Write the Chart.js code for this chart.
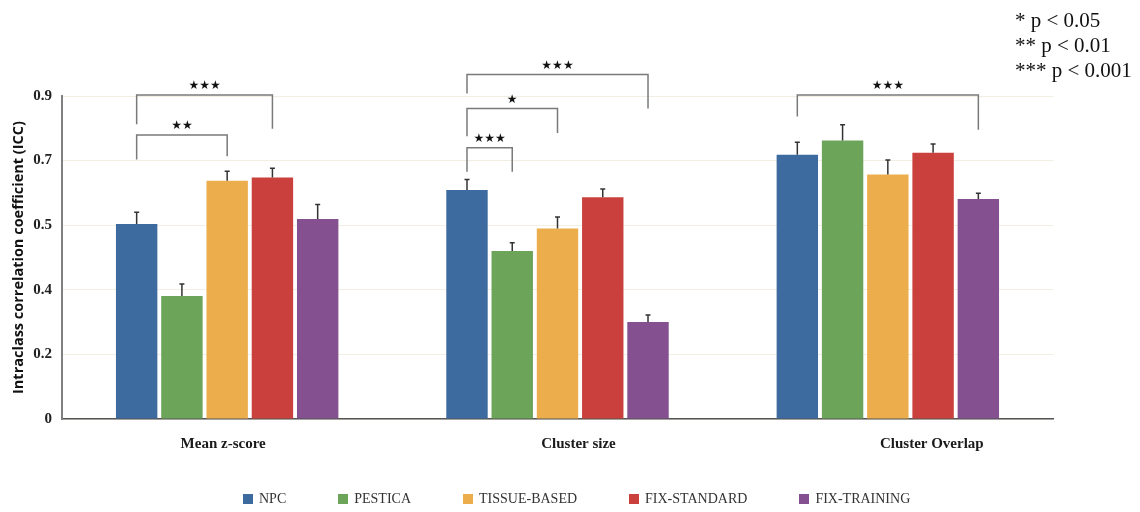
<!DOCTYPE html>
<html>
<head>
<meta charset="utf-8">
<title>ICC by method</title>
<script src="https://cdn.jsdelivr.net/npm/chart.js@4.4.1/dist/chart.umd.min.js"></script>
<style>
  html, body { margin: 0; padding: 0; background: #fff; }
  #wrap { position: relative; width: 1140px; height: 512px; }
  #legend {
    position: absolute; left: 243px; top: 491px;
    display: flex; align-items: center;
    font: 14px "Liberation Serif", serif; color: #333; white-space: nowrap;
  }
  #legend .item { display: flex; align-items: center; margin-right: 52px; }
  #legend .item:last-child { margin-right: 0; }
  #legend .sw { width: 10px; height: 10px; margin-right: 6px; }
  #pnote {
    position: absolute; left: 1015px; top: 8px;
    font: 21px/25px "Liberation Serif", serif; color: #111; white-space: nowrap;
  }
</style>
</head>
<body>
<div id="wrap">
  <canvas id="chart" width="1140" height="512"></canvas>
  <div id="legend"></div>
  <div id="pnote"></div>
</div>
<script>
// Measures compared across methods
const CATEGORIES = ['Mean z-score', 'Cluster size', 'Cluster Overlap'];

// Methods (one bar series each)
const SERIES_NAMES = ['NPC', 'PESTICA', 'TISSUE-BASED', 'FIX-STANDARD', 'FIX-TRAINING'];
const SERIES_COLORS = ['#3e6b9f', '#6ca55a', '#ecae4c', '#c9403c', '#845090'];

// Mean ICC per measure
const NPC          = [0.543, 0.638, 0.736];
const PESTICA      = [0.343, 0.468, 0.776];
const TISSUE_BASED = [0.664, 0.531, 0.681];
const FIX_STANDARD = [0.673, 0.618, 0.742];
const FIX_TRAINING = [0.557, 0.270, 0.613];

// Upper error (standard error) per measure
const NPC_ERR          = [0.033, 0.029, 0.035];
const PESTICA_ERR      = [0.033, 0.023, 0.044];
const TISSUE_BASED_ERR = [0.026, 0.032, 0.041];
const FIX_STANDARD_ERR = [0.026, 0.023, 0.024];
const FIX_TRAINING_ERR = [0.041, 0.020, 0.016];

// Y axis: six evenly spaced ticks from 0 to 0.9, printed with one decimal
const Y_TICK_VALUES = [0, 0.18, 0.36, 0.54, 0.72, 0.9];
const Y_TICK_LABELS = ['0', '0.2', '0.4', '0.5', '0.7', '0.9'];

// Significance key
const P_NOTE = ['* p < 0.05', '** p < 0.01', '*** p < 0.001'];

// Pairwise comparisons: measure, the two methods, bracket height and leg ends (ICC units), marker
const COMPARISONS = [
  { cat: 0, from: 0, to: 2, level: 0.791, fromEnd: 0.723, toEnd: 0.732, mark: '★★' },
  { cat: 0, from: 0, to: 3, level: 0.903, fromEnd: 0.821, toEnd: 0.809, mark: '★★★' },
  { cat: 1, from: 0, to: 1, level: 0.756, fromEnd: 0.689, toEnd: 0.689, mark: '★★★' },
  { cat: 1, from: 0, to: 2, level: 0.865, fromEnd: 0.788, toEnd: 0.797, mark: '★' },
  { cat: 1, from: 0, to: 4, level: 0.960, fromEnd: 0.907, toEnd: 0.865, mark: '★★★' },
  { cat: 2, from: 0, to: 4, level: 0.903, fromEnd: 0.843, toEnd: 0.806, mark: '★★★' }
];

// Horizontal nudge of each measure name under its group (px)
const X_LABEL_SHIFT = [-4, 21, 44];

const VALUES = [NPC, PESTICA, TISSUE_BASED, FIX_STANDARD, FIX_TRAINING];
const ERRORS = [NPC_ERR, PESTICA_ERR, TISSUE_BASED_ERR, FIX_STANDARD_ERR, FIX_TRAINING_ERR];

// Upper whiskers with a small cap
const errorBars = {
  id: 'errorBars',
  afterDatasetsDraw(chart) {
    const { ctx, scales: { y } } = chart;
    ctx.save();
    ctx.strokeStyle = '#333';
    ctx.lineWidth = 1.5;
    chart.data.datasets.forEach((ds, di) => {
      const meta = chart.getDatasetMeta(di);
      meta.data.forEach((bar, i) => {
        const top = y.getPixelForValue(ds.data[i] + ERRORS[di][i]);
        ctx.beginPath();
        ctx.moveTo(bar.x, bar.y);
        ctx.lineTo(bar.x, top);
        ctx.moveTo(bar.x - 2.5, top);
        ctx.lineTo(bar.x + 2.5, top);
        ctx.stroke();
      });
    });
    ctx.restore();
  }
};

// Significance brackets above the groups
const brackets = {
  id: 'brackets',
  afterDatasetsDraw(chart) {
    const { ctx, scales: { y } } = chart;
    ctx.save();
    COMPARISONS.forEach(c => {
      const a = chart.getDatasetMeta(c.from).data[c.cat];
      const b = chart.getDatasetMeta(c.to).data[c.cat];
      const yl = y.getPixelForValue(c.level);
      ctx.strokeStyle = '#7a7a7a';
      ctx.lineWidth = 1.5;
      ctx.beginPath();
      ctx.moveTo(a.x, y.getPixelForValue(c.fromEnd));
      ctx.lineTo(a.x, yl);
      ctx.lineTo(b.x, yl);
      ctx.lineTo(b.x, y.getPixelForValue(c.toEnd));
      ctx.stroke();
      ctx.fillStyle = '#111';
      ctx.font = '12px "DejaVu Sans"';
      ctx.textAlign = 'center';
      ctx.textBaseline = 'middle';
      ctx.fillText(c.mark, (a.x + b.x) / 2, yl - 9);
    });
    ctx.restore();
  }
};

// Measure names under the groups
const groupLabels = {
  id: 'groupLabels',
  afterDraw(chart) {
    const { ctx, chartArea, scales: { x } } = chart;
    ctx.save();
    ctx.fillStyle = '#1a1a1a';
    ctx.font = 'bold 15px "Liberation Serif"';
    ctx.textAlign = 'center';
    ctx.textBaseline = 'middle';
    CATEGORIES.forEach((label, i) => {
      ctx.fillText(label, x.getPixelForValue(i) + X_LABEL_SHIFT[i], chartArea.bottom + 25);
    });
    ctx.restore();
  }
};

new Chart(document.getElementById('chart'), {
  type: 'bar',
  data: {
    labels: CATEGORIES,
    datasets: SERIES_NAMES.map((name, i) => ({
      label: name,
      data: VALUES[i],
      backgroundColor: SERIES_COLORS[i],
      borderWidth: 0,
      categoryPercentage: 0.685,
      barPercentage: 0.915
    }))
  },
  options: {
    responsive: false,
    animation: false,
    layout: { padding: { top: 96, right: 87, bottom: 0, left: 0 } },
    plugins: { legend: { display: false }, tooltip: { enabled: false } },
    scales: {
      x: {
        grid: { display: false, drawTicks: false },
        border: { display: true, color: '#555', width: 1.5 },
        ticks: { display: false },
        afterFit(s) { s.height = 93; }
      },
      y: {
        min: 0,
        max: 0.9,
        afterBuildTicks(s) { s.ticks = Y_TICK_VALUES.map(v => ({ value: v })); },
        ticks: {
          callback: (v, i) => Y_TICK_LABELS[i],
          font: { family: 'Liberation Serif', size: 15, weight: 'bold' },
          color: '#222',
          padding: 10
        },
        grid: { color: '#f3eee2', drawTicks: false },
        border: { color: '#808080', width: 2 },
        title: {
          display: true,
          text: 'Intraclass correlation coefficient (ICC)',
          font: { family: 'Open Sans', size: 14.5, weight: 'bold' },
          color: '#111',
          padding: { top: 10, bottom: 0 }
        },
        afterFit(s) { s.width = 62; }
      }
    }
  },
  plugins: [errorBars, brackets, groupLabels]
});

// Legend row built from the series
const legend = document.getElementById('legend');
SERIES_NAMES.forEach((name, i) => {
  const item = document.createElement('div');
  item.className = 'item';
  const sw = document.createElement('span');
  sw.className = 'sw';
  sw.style.background = SERIES_COLORS[i];
  const txt = document.createElement('span');
  txt.textContent = name;
  item.appendChild(sw);
  item.appendChild(txt);
  legend.appendChild(item);
});

// Significance key
document.getElementById('pnote').innerHTML = P_NOTE.map(t => '<div>' + t + '</div>').join('');
</script>
</body>
</html>
